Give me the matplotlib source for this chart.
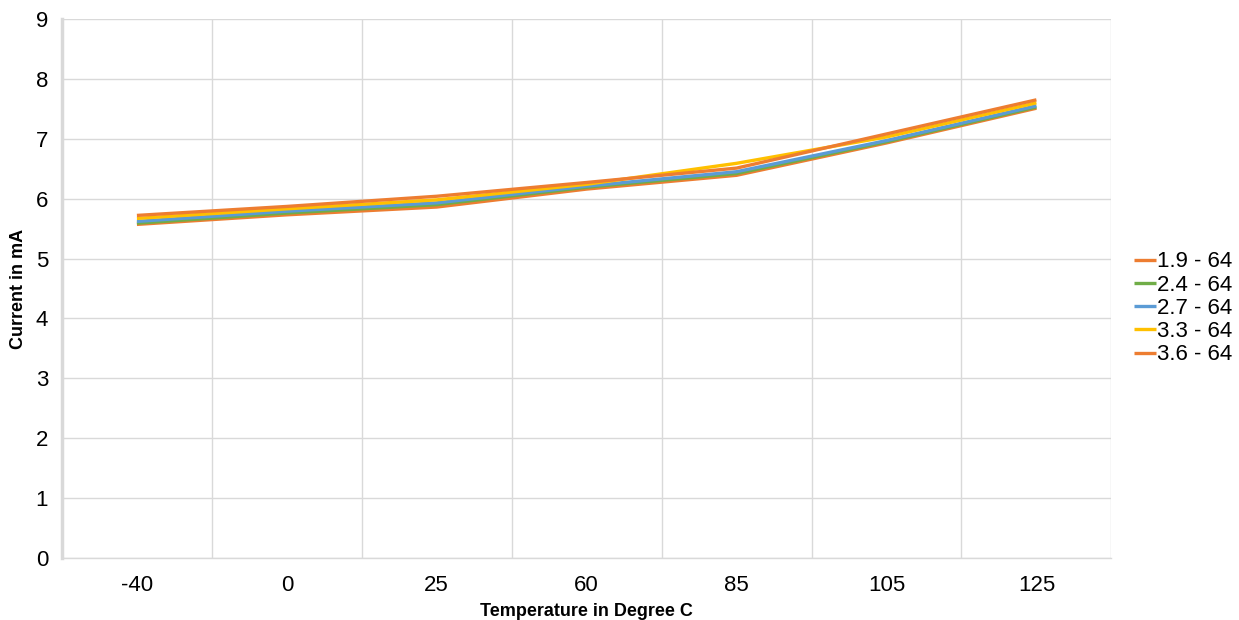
import matplotlib.pyplot as plt
import numpy as np

# data
temps = ["-40", "0", "25", "60", "85", "105", "125"]
i_19 = [5.57, 5.73, 5.86, 6.16, 6.39, 6.93, 7.51]
i_24 = [5.59, 5.76, 5.90, 6.19, 6.42, 6.95, 7.53]
i_27 = [5.62, 5.79, 5.93, 6.21, 6.45, 6.97, 7.55]
i_33 = [5.67, 5.83, 5.98, 6.24, 6.59, 7.03, 7.60]
i_36 = [5.72, 5.87, 6.04, 6.27, 6.51, 7.08, 7.65]

labels = ["1.9 - 64", "2.4 - 64", "2.7 - 64", "3.3 - 64", "3.6 - 64"]
series = [i_19, i_24, i_27, i_33, i_36]
colors = ["#ED7D31", "#70AD47", "#5B9BD5", "#FFC000", "#ED7D31"]

plt.rcParams["font.family"] = ["Liberation Sans", "DejaVu Sans"]

fig = plt.figure(figsize=(12.39, 6.2), dpi=100)
ax = fig.add_axes([0.050, 0.10, 0.847, 0.8694])

x = np.arange(len(temps))
for vals, lab, c in zip(series, labels, colors):
    ax.plot(x, vals, color=c, lw=2.4, label=lab, solid_capstyle="butt")

ax.set_xlim(-0.5, len(temps) - 0.5)
ax.set_ylim(0, 9)
ax.set_yticks(range(0, 10))
ax.set_xticks(x)
ax.set_xticklabels(temps)
ax.set_xticks(np.arange(-0.5, len(temps), 1.0), minor=True)

ax.grid(axis="y", which="major", color="#D9D9D9", lw=1)
ax.grid(axis="x", which="minor", color="#D9D9D9", lw=1)
ax.set_axisbelow(True)

for s in ["top", "right"]:
    ax.spines[s].set_visible(False)
ax.spines["left"].set_color("#D9D9D9")
ax.spines["left"].set_linewidth(2.5)
ax.spines["bottom"].set_color("#D9D9D9")
ax.spines["bottom"].set_linewidth(1)

ax.tick_params(axis="both", which="both", length=0, labelsize=16, colors="#000000")
ax.tick_params(axis="y", pad=10)
ax.tick_params(axis="x", pad=12)

ax.set_xlabel("Temperature in Degree C", fontsize=13, fontweight="bold", labelpad=5)
ax.set_ylabel("Current in mA", fontsize=13, fontweight="bold", labelpad=6)

ax.legend(loc="center left", bbox_to_anchor=(1.013, 0.463), frameon=False,
          fontsize=16, handlelength=1.0, handletextpad=0.05, labelspacing=0.1,
          borderaxespad=0)

fig.savefig("out.png", dpi=100)
